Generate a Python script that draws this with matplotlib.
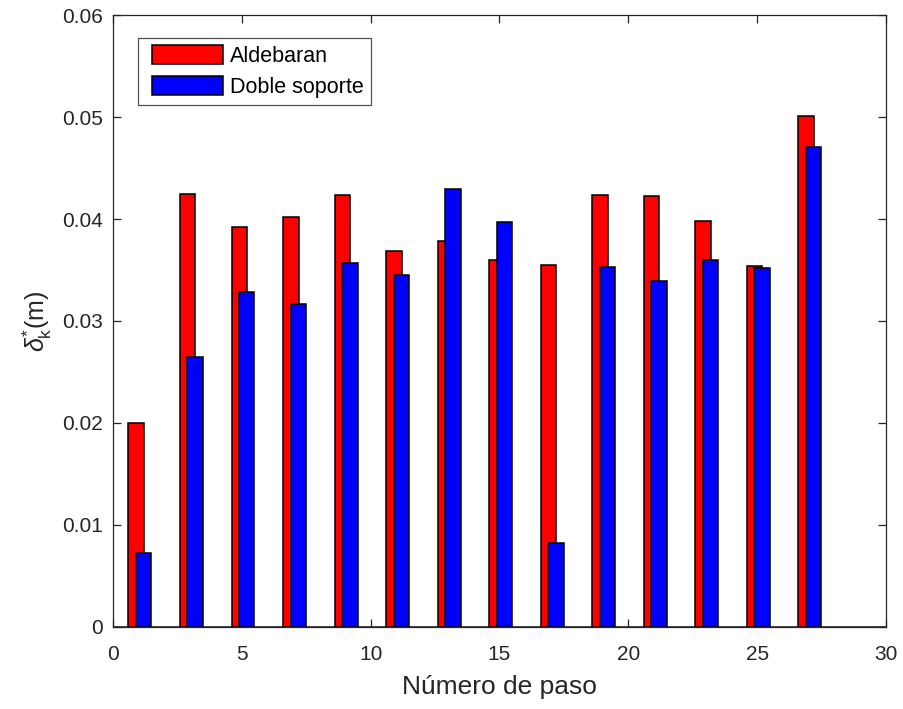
import numpy as np
import matplotlib
matplotlib.use("Agg")
import matplotlib.pyplot as plt
from matplotlib.patches import Rectangle
from matplotlib.container import BarContainer
from matplotlib.legend_handler import HandlerPatch, update_from_first_child

plt.rcParams['font.family'] = ['Liberation Sans', 'DejaVu Sans']
plt.rcParams['mathtext.fontset'] = 'custom'
plt.rcParams['mathtext.rm'] = 'Liberation Sans'
plt.rcParams['mathtext.it'] = 'Liberation Sans:italic'

# Step numbers and per-step values for each walking mode
pasos = [1, 3, 5, 7, 9, 11, 13, 15, 17, 19, 21, 23, 25, 27]
aldebaran = [0.0200, 0.0425, 0.0392, 0.0402, 0.0424, 0.0369, 0.0378,
             0.0360, 0.0355, 0.0424, 0.0423, 0.0398, 0.0354, 0.0501]
doble_soporte = [0.0073, 0.0265, 0.0328, 0.0317, 0.0357, 0.0345, 0.0429,
                 0.0397, 0.0082, 0.0353, 0.0339, 0.0360, 0.0352, 0.0471]
xticks = [0, 5, 10, 15, 20, 25, 30]
yticks = [0, 0.01, 0.02, 0.03, 0.04, 0.05, 0.06]
ytick_labels = ['0', '0.01', '0.02', '0.03', '0.04', '0.05', '0.06']

axis_col = (0.15, 0.15, 0.15)

fig = plt.figure(figsize=(9.04, 7.09), dpi=100)
ax = fig.add_axes([0.125, 0.1157, 0.855, 0.8631])

x = np.array(pasos, dtype=float)
w = 0.6
ax.bar(x - 0.10, aldebaran, width=w, color='#ff0000', edgecolor='black',
       linewidth=1.1, label='Aldebaran', zorder=2)
ax.bar(x + 0.19, doble_soporte, width=w, color='#0000ff', edgecolor='black',
       linewidth=1.1, label='Doble soporte', zorder=3)
ax.axhline(0, color=axis_col, linewidth=1.2, zorder=1)

ax.set_xlim(0, 30)
ax.set_ylim(0, 0.06)
ax.set_xticks(xticks)
ax.set_yticks(yticks)
ax.set_yticklabels(ytick_labels)

ax.tick_params(direction='in', length=6, width=0.9, colors=axis_col,
               labelsize=15, top=True, right=True)
ax.tick_params(axis='x', pad=13)
ax.tick_params(axis='y', pad=7)
for s in ax.spines.values():
    s.set_color(axis_col)
    s.set_linewidth(0.9)

ax.set_xlabel('Número de paso', fontsize=19, color=axis_col, labelpad=8)
ax.set_ylabel(r'$\delta^{*}_{\mathrm{k}}$(m)', fontsize=18, color=axis_col, labelpad=6)


# legend swatches are inset from the left edge of the legend frame
def inset_swatch(legend, orig_handle, xdescent, ydescent, width, height, fontsize):
    off = 0.31 * fontsize
    return Rectangle((-xdescent + off, -ydescent), width - off, height)


swatch = HandlerPatch(patch_func=inset_swatch, update_func=update_from_first_child)
leg = ax.legend(loc='upper left', bbox_to_anchor=(0.032, 0.963), fontsize=15.5,
                frameon=True, fancybox=False, edgecolor=axis_col,
                handlelength=3.6, handleheight=1.0, handletextpad=0.33,
                borderpad=0.34, labelspacing=0.42, borderaxespad=0,
                handler_map={BarContainer: swatch})
leg.get_frame().set_linewidth(0.9)

fig.savefig('out.png', dpi=100)
